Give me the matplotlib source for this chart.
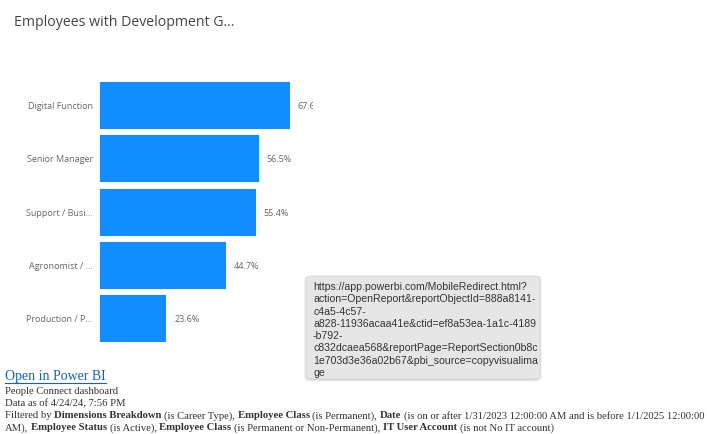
import matplotlib.pyplot as plt
import matplotlib.transforms as mtransforms
from matplotlib.patches import FancyBboxPatch
from matplotlib.lines import Line2D

categories = ['Digital Function', 'Senior Manager', 'Support / Busi...', 'Agronomist / ...', 'Production / P...']
values = [67.6, 56.5, 55.4, 44.7, 23.6]

title = 'Employees with Development G...'
tooltip_lines = [
    'https://app.powerbi.com/MobileRedirect.html?',
    'action=OpenReport&reportObjectId=888a8141-',
    'c4a5-4c57-',
    'a828-11936acaa41e&ctid=ef8a53ea-1a1c-4189',
    '-b792-',
    'c832dcaea568&reportPage=ReportSection0b8c',
    '1e703d3e36a02b67&pbi_source=copyvisualima',
    'ge',
]
footer_lines = [
    [('People Connect dashboard', False)],
    [('Data as of 4/24/24, 7:56 PM', False)],
    [('Filtered by ', False), ('Dimensions Breakdown', True), (' (is Career Type), ', False),
     ('Employee Class', True), (' (is Permanent), ', False), ('Date', True),
     (' (is on or after 1/31/2023 12:00:00 AM and is before 1/1/2025 12:00:00', False)],
    [('AM), ', False), ('Employee Status', True), (' (is Active), ', False),
     ('Employee Class', True), (' (is Permanent or Non-Permanent), ', False),
     ('IT User Account', True), (' (is not No IT account)', False)],
]

W, H = 707, 435
fig = plt.figure(figsize=(W / 100, H / 100), dpi=100)
fig.patch.set_facecolor('white')


def fx(px):
    return px / W


def fy(py):
    return 1 - py / H


# bar chart
ax = fig.add_axes([fx(100), fy(346.5), fx(213), 266.5 / H])
ypos = list(range(len(categories)))
ax.barh(ypos, values, height=0.88, color='#118DFF')
ax.set_xlim(0, 213 / 2.81)
ax.set_ylim(len(categories) - 0.5, -0.5)
ax.axis('off')
for y, v in zip(ypos, values):
    ax.text(v + 8 / 2.81, y, f'{v:.1f}%', va='center', ha='left', fontsize=6.5,
            color='#666666', family='Open Sans', clip_on=True)

trans = mtransforms.blended_transform_factory(fig.transFigure, ax.transData)
for y, c in zip(ypos, categories):
    fig.text(fx(93), y, c, ha='right', va='center', fontsize=6.5, color='#666666',
             family='Open Sans', transform=trans)

fig.text(fx(14), fy(22), title, ha='left', va='center', fontsize=10.2,
         color='#444444', family='Open Sans')

# footer
renderer = fig.canvas.get_renderer()
link = fig.text(fx(5), fy(377), 'Open in Power BI', ha='left', va='center',
                fontsize=10, color='#0b63ce', family='Liberation Serif')
bb = link.get_window_extent(renderer)
fig.add_artist(Line2D([bb.x0 / W, bb.x1 / W], [fy(384), fy(384)],
                      transform=fig.transFigure, color='#0b63ce', lw=0.8))

fs = 7.7
probe = fig.text(0, 0, 'a a', fontsize=fs, family='Liberation Serif')
probe2 = fig.text(0, 0, 'aa', fontsize=fs, family='Liberation Serif')
space = probe.get_window_extent(renderer).width - probe2.get_window_extent(renderer).width
probe.remove()
probe2.remove()

y0 = 392
for line in footer_lines:
    x = 5
    for txt, bold in line:
        lead = len(txt) - len(txt.lstrip(' '))
        trail = len(txt) - len(txt.rstrip(' '))
        x += lead * space
        t = fig.text(fx(x), fy(y0), txt.strip(' '), ha='left', va='center', fontsize=fs,
                     color='#333333', family='Liberation Serif',
                     fontweight='bold' if bold else 'normal')
        x += t.get_window_extent(renderer).width + trail * space
    y0 += 12

# tooltip box with a soft shadow
for off, alpha in [(3, 0.04), (2, 0.06), (1, 0.08)]:
    sh = FancyBboxPatch((fx(306 - off + 1), fy(380 + off)), fx(234 + 2 * off - 2), (103 + off) / H,
                        boxstyle='round,pad=0,rounding_size=0.01',
                        transform=fig.transFigure, facecolor='black',
                        edgecolor='none', alpha=alpha, zorder=4)
    fig.add_artist(sh)
box = FancyBboxPatch((fx(306), fy(380)), fx(234), 103 / H,
                     boxstyle='round,pad=0,rounding_size=0.008',
                     transform=fig.transFigure, facecolor='#e6e6e6',
                     edgecolor='#d4d4d4', lw=0.6, zorder=5)
fig.add_artist(box)
for i, line in enumerate(tooltip_lines):
    fig.text(fx(313), fy(287 + i * 12.3), line, ha='left', va='center', fontsize=7.6,
             color='#333333', family='Liberation Sans', zorder=6)

fig.savefig('out.png', dpi=100)
